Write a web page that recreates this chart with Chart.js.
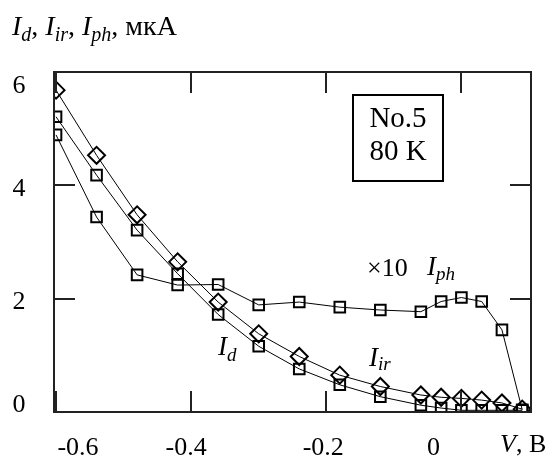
<!DOCTYPE html>
<html><head><meta charset="utf-8">
<script src="https://cdn.jsdelivr.net/npm/chart.js@4/dist/chart.umd.min.js"></script>
<style>html,body{margin:0;padding:0;background:#fff;}#wrap{width:553px;height:457px;}</style>
</head><body><div id="wrap"><canvas id="c" width="553" height="457"></canvas></div>
<script>
const voltages = [-0.6, -0.54, -0.48, -0.42, -0.36, -0.30, -0.24, -0.18, -0.12, -0.06, -0.03, 0, 0.03, 0.06, 0.09];
const currentIr = [5.68, 4.53, 3.48, 2.65, 1.94, 1.38, 0.98, 0.65, 0.45, 0.30, 0.26, 0.24, 0.21, 0.16, 0.05];
const currentD = [5.21, 4.18, 3.21, 2.44, 1.72, 1.16, 0.76, 0.48, 0.27, 0.12, 0.07, 0.03, 0.03, 0.03, 0.03];
const photoCurrentX10 = [4.89, 3.44, 2.42, 2.24, 2.25, 1.89, 1.94, 1.85, 1.80, 1.77, 1.95, 2.02, 1.95, 1.45, 0.04];
const xTickValues = [-0.6, -0.4, -0.2, 0];
const xTickLabels = ['-0.6', '-0.4', '-0.2', '0'];
const yTickValues = [0, 2, 4, 6];
const yTickLabels = ['0', '2', '4', '6'];

const SERIF = '"Liberation Serif", "Times New Roman", serif';
const INK = '#222222';

function pts(ys) { return voltages.map((v, i) => ({x: v, y: ys[i]})); }
function ds(ys, style, r) {
  return {
    data: pts(ys), showLine: true, borderColor: '#000', borderWidth: 1,
    pointStyle: style, pointRadius: r, pointHoverRadius: r, pointBorderWidth: 2,
    pointBackgroundColor: 'rgba(0,0,0,0)', pointBorderColor: '#000',
    tension: 0, clip: 0, fill: false
  };
}

function txt(ctx, s, x, y, size, italic, align) {
  ctx.font = (italic ? 'italic ' : '') + size + 'px ' + SERIF;
  ctx.textAlign = align || 'left';
  ctx.textBaseline = 'alphabetic';
  ctx.fillText(s, x, y);
  return x + ctx.measureText(s).width;
}
function sym(ctx, main, sub, x, y, size, subSize, dy) {
  let e = txt(ctx, main, x, y, size, true);
  return txt(ctx, sub, e, y + dy, subSize, true);
}

const framePlugin = {
  id: 'frame',
  afterDraw(chart) {
    const ctx = chart.ctx;
    const xs = chart.scales.x, ys = chart.scales.y;
    const L = Math.round(xs.left), R = Math.round(xs.right);
    const T = Math.round(ys.top), B = Math.round(ys.bottom);
    ctx.save();
    ctx.fillStyle = '#000';
    let e = sym(ctx, 'I', 'd', 12, 35, 28, 20, 6);
    e = txt(ctx, ', ', e, 35, 28, false);
    e = sym(ctx, 'I', 'ir', e, 35, 28, 20, 6);
    e = txt(ctx, ', ', e, 35, 28, false);
    e = sym(ctx, 'I', 'ph', e, 35, 28, 20, 6);
    txt(ctx, ', мкА', e, 35, 28, false);

    ctx.fillStyle = INK;
    const w = 2, tl = 21;
    ctx.fillRect(L - 1, T - 1, R - L + 2, w);
    ctx.fillRect(R - 1, T - 1, w, B - T + 2);
    xTickValues.forEach(v => {
      const px = Math.round(xs.getPixelForValue(v));
      ctx.fillRect(px - 1, B - tl, w, tl);
      ctx.fillRect(px - 1, T, w, tl);
    });
    yTickValues.forEach(v => {
      const py = Math.round(ys.getPixelForValue(v));
      ctx.fillRect(L, py - 1, tl, w);
      ctx.fillRect(R - tl, py - 1, tl, w);
    });
    ctx.fillRect(L - 1, B - 1, R - L + 2, w);
    ctx.fillRect(L - 1, T - 1, w, B - T + 2);
    ctx.fillStyle = '#000';

    const xOff = [22, -5, -3, -28];
    xTickValues.forEach((v, i) => {
      txt(ctx, xTickLabels[i], xs.getPixelForValue(v) + xOff[i], 455, 26, false, 'center');
    });
    const yOff = [0, 10, 11, 21];
    yTickValues.forEach((v, i) => {
      txt(ctx, yTickLabels[i], 19, ys.getPixelForValue(v) + yOff[i], 26, false, 'center');
    });

    e = txt(ctx, 'V', 500, 452, 26, true);
    txt(ctx, ', В', e, 452, 26, false);

    sym(ctx, 'I', 'd', 218, 355, 27, 19, 6);
    sym(ctx, 'I', 'ir', 369, 366, 27, 19, 4);
    txt(ctx, '×10', 367, 276, 26, false);
    sym(ctx, 'I', 'ph', 427, 275, 27, 19, 5);

    ctx.fillRect(352, 94, 92, 2);
    ctx.fillRect(352, 180, 92, 2);
    ctx.fillRect(352, 94, 2, 88);
    ctx.fillRect(442, 94, 2, 88);
    txt(ctx, 'No.5', 398, 127, 29, false, 'center');
    txt(ctx, '80 K', 398, 160, 29, false, 'center');
    ctx.restore();
  }
};

new Chart(document.getElementById('c'), {
  type: 'scatter',
  data: { datasets: [ds(currentIr, 'rectRot', 8.5), ds(currentD, 'rect', 7.5), ds(photoCurrentX10, 'rect', 7.5)] },
  options: {
    responsive: false, animation: false, devicePixelRatio: 1,
    layout: { padding: { left: 54, top: 72, right: 22, bottom: 45 }, autoPadding: false },
    plugins: { legend: { display: false }, tooltip: { enabled: false }, title: { display: false } },
    scales: {
      x: { type: 'linear', min: -0.603, max: 0.103, display: false },
      y: { type: 'linear', min: 0, max: 6, display: false }
    }
  },
  plugins: [framePlugin]
});
</script>
</body></html>
